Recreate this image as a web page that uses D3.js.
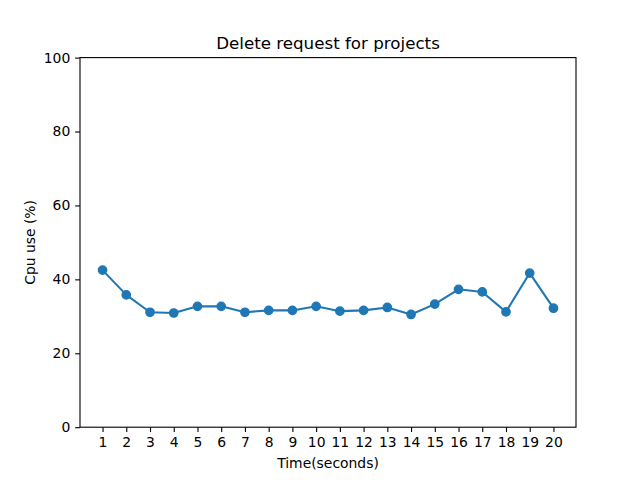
<!DOCTYPE html>
<html><head><meta charset="utf-8">
<script src="https://cdn.jsdelivr.net/npm/d3@7"></script>
<style>body{margin:0;background:#fff}svg{display:block}text{font-family:"DejaVu Sans",sans-serif}</style>
</head><body><svg id="c" width="640" height="480"></svg>
<script>
const times = [1,2,3,4,5,6,7,8,9,10,11,12,13,14,15,16,17,18,19,20];
const cpu = [42.5,35.8,31.1,30.9,32.7,32.7,31.1,31.6,31.6,32.7,31.4,31.6,32.4,30.5,33.3,37.3,36.6,31.2,41.7,32.2];
const yTicks = [0,20,40,60,80,100];
const titleText = "Delete request for projects";
const xLabel = "Time(seconds)";
const yLabel = "Cpu use (%)";

const svg = d3.select("#c");
const L=80,R=576,T=57.6,B=427.2;
const x = d3.scaleLinear().domain([1-0.95,20+0.95]).range([L,R]);
const y = d3.scaleLinear().domain([0,100]).range([B,T]);
const fs = 13.9;

const xa = svg.append("g").attr("transform",`translate(0,${B})`)
  .call(d3.axisBottom(x).tickValues(times).tickFormat(d3.format("d")).tickSizeOuter(0).tickSize(4.86).tickPadding(4.9));
const ya = svg.append("g").attr("transform",`translate(${L},0)`)
  .call(d3.axisLeft(y).tickValues(yTicks).tickSizeOuter(0).tickSize(4.86).tickPadding(4.9));
[xa,ya].forEach(a=>{a.select(".domain").remove();a.selectAll("line").attr("stroke","#000").attr("stroke-width",1.1);
  a.selectAll("text").attr("font-size",fs).attr("fill","#000").attr("font-family","DejaVu Sans");});

svg.append("rect").attr("x",L).attr("y",T).attr("width",R-L).attr("height",B-T)
  .attr("fill","none").attr("stroke","#000").attr("stroke-width",1.1);

const line = d3.line().x((d,i)=>x(times[i])).y(d=>y(d));
svg.append("path").datum(cpu).attr("d",line).attr("fill","none").attr("stroke","#1f77b4").attr("stroke-width",2.08).attr("stroke-linejoin","round");
svg.selectAll("circle.p").data(cpu).enter().append("circle").attr("class","p")
  .attr("cx",(d,i)=>x(times[i])).attr("cy",d=>y(d)).attr("r",4.17).attr("fill","#1f77b4")
  .attr("stroke","#1f77b4").attr("stroke-width",1.39);

svg.append("text").attr("x",(L+R)/2).attr("y",T-9).attr("text-anchor","middle").attr("font-size",16.7).text(titleText);
svg.append("text").attr("x",(L+R)/2).attr("y",468).attr("text-anchor","middle").attr("font-size",fs).text(xLabel);
svg.append("text").attr("transform",`translate(35,${(T+B)/2}) rotate(-90)`).attr("text-anchor","middle").attr("font-size",fs).text(yLabel);
</script></body></html>
